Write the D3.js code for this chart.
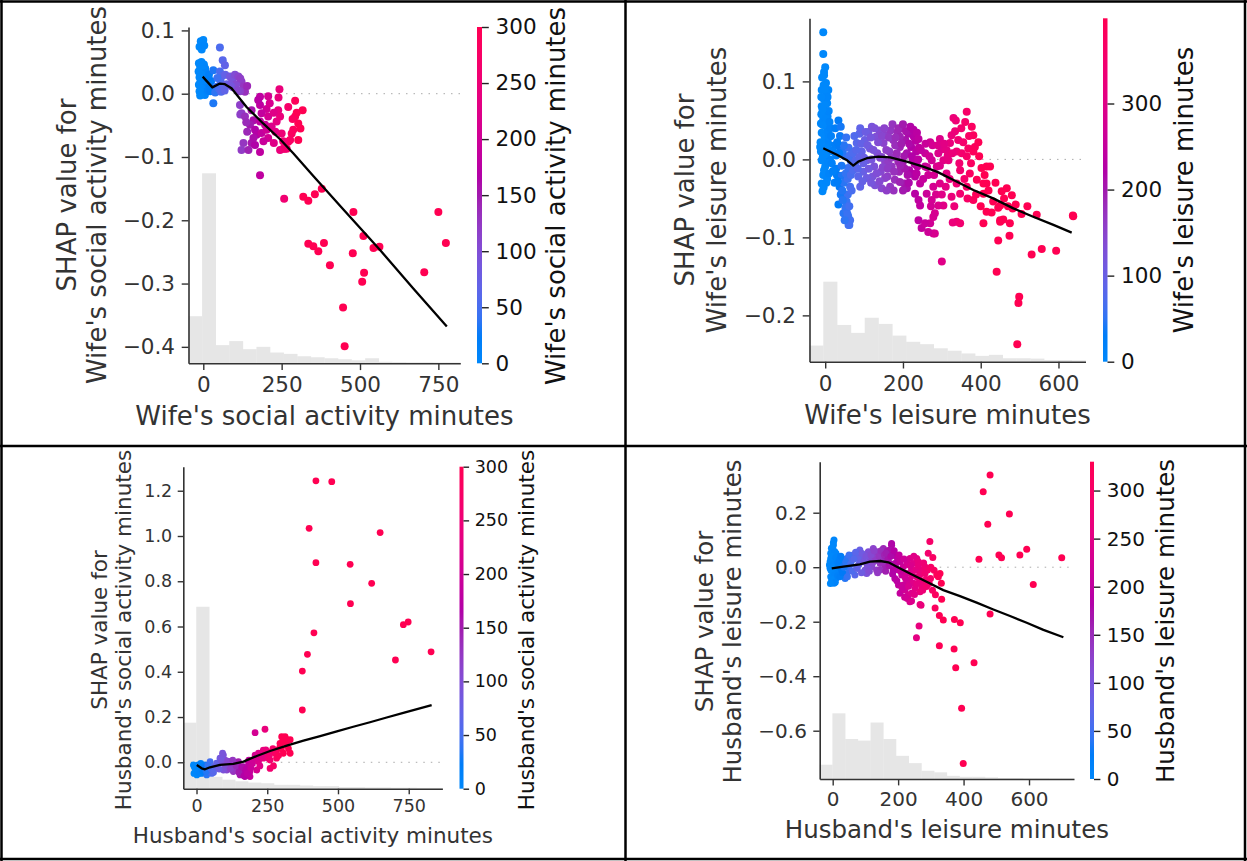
<!DOCTYPE html>
<html><head><meta charset="utf-8">
<script src="https://cdn.jsdelivr.net/npm/d3@7"></script>
<style>body{margin:0;background:#fff}svg{display:block}</style>
</head><body>
<svg id="chart" width="1247" height="861"></svg>
<script>
// ---------------- DATA ----------------
// Panel 1: Wife's social activity minutes  ([minutes, SHAP value])
const wifeSocialPoints = [
[-8,0.083],[0,0.085],[-12,0.074],[-5,0.070],[3,0.076],
[-14,0.048],[-6,0.050],[2,0.046],[-10,0.042],[6,0.040],[-2,0.038],[-15,0.035],[8,0.033],[-6,0.030],[1,0.028],[-12,0.026],[10,0.024],[-3,0.022],[-9,0.019],[4,0.018],[12,0.016],[-14,0.014],[-1,0.012],[7,0.010],[-7,0.008],[2,0.006],[-12,0.004],[9,0.003],[-4,0.001],[5,-0.002],[-10,-0.003],[15,0.005],[20,0.012],[25,0.020],[18,0.030],[22,0.004],
[32,-0.015],[32,0.037],[43,0.011],[38,0.002],[50,0.008],[55,0.020],[53,0.073],[62,0.053],[69,0.045],[53,0.035],[57,0.003],[65,0.012],[60,0.028],[45,0.025],[70,0.030],[75,0.015],[68,0.005],
[85,0.027],[92,0.022],[101,0.030],[112,0.027],[122,0.019],[128,0.011],[133,0.003],[117,0.004],[95,0.010],[105,0.015],[110,0.005],[140,0.012],[118,0.024],[88,0.012],
[117,-0.018],[122,-0.031],[118,-0.033],[133,-0.036],[154,-0.026],[160,-0.042],[149,-0.049],[165,-0.057],[181,-0.005],[207,-0.004],[181,-0.018],[202,-0.024],[186,-0.031],[207,-0.036],[181,-0.044],[197,-0.049],[170,-0.065],[186,-0.062],[202,-0.057],[218,-0.052],[128,-0.078],[154,-0.078],[122,-0.089],[144,-0.089],[165,-0.081],[181,-0.092],[181,-0.129],[207,-0.070],[234,-0.044],[245,-0.036],[239,-0.026],[243,0.007],[240,-0.006],[250,-0.063],[255,-0.087],[266,-0.087],[271,-0.076],[140,-0.060],[175,-0.010],[192,-0.075],[212,-0.015],[225,-0.030],[230,-0.060],[160,-0.070],[137,-0.045],[225,-0.078],
[271,-0.021],[293,-0.011],[317,-0.026],[293,-0.036],[303,-0.047],[287,-0.057],[282,-0.063],[303,-0.073],[277,-0.073],[255,-0.075],[245,-0.089],[260,-0.087],[298,-0.030],[310,-0.055],[285,-0.040],
[258,-0.166],[319,-0.163],[335,-0.169],[356,-0.159],[378,-0.150],[479,-0.187],[750,-0.187],[511,-0.225],[543,-0.244],[562,-0.242],[335,-0.237],[351,-0.241],[367,-0.249],[385,-0.236],[477,-0.252],[404,-0.271],[774,-0.236],[513,-0.283],[507,-0.297],[705,-0.282],[446,-0.338],[451,-0.399]
];
const wifeSocialTrend = [[-2,0.027],[29,0.010],[53,0.016],[69,0.015],[90,0.0085],[138,-0.021],[191,-0.047],[245,-0.072],[287,-0.094],[351,-0.130],[447,-0.183],[564,-0.247],[670,-0.308],[777,-0.368]];
const wifeSocialHist = [14.0,56.5,5.4,6.6,4.2,4.9,3.2,2.8,2.1,1.8,1.5,1.2,0.9,1.5,0.45,0.36,0.3,0.3,0.24,0.24]; // % of samples per bin
const wifeSocialXTicks = [0,250,500,750];
const wifeSocialXTickLabels = ["0","250","500","750"];
const wifeSocialYTicks = [0.1,0,-0.1,-0.2,-0.3,-0.4];
const wifeSocialYTickLabels = ["0.1","0.0","\u22120.1","\u22120.2","\u22120.3","\u22120.4"];
const wifeSocialCbTicks = [0,50,100,150,200,250,300];

// Panel 2: Wife's leisure minutes
const wifeLeisurePoints = [
[-5,0.163],[-5,0.135],[-3,0.112],[-3,0.108],[2,0.098],[-9,0.089],[8,0.089],[-5,0.078],[5,0.072],[-9,0.068],[0,0.061],[-5,0.051],[4,0.042],[-9,0.034],[0,0.025],[-13,0.016],[4,0.008],[-9,-0.001],[0,-0.009],[-5,-0.020],[-9,-0.031],[-7,-0.041],
[6,0.055],[-2,0.030],[8,0.020],[-6,0.004],[10,0.012],[-11,0.046],[3,0.085],[-1,0.070],[7,0.035],[-3,-0.014],[5,-0.025],[12,0.000],[-10,0.058],[9,0.062],[-12,0.022],[2,0.015],
[-8,0.105],[0,0.118],[-4,0.095],[6,0.080],[-10,0.080],[1,0.052],[-6,0.044],[9,0.028],[-2,0.006],[7,-0.004],[-11,0.010],[3,-0.030],[-4,-0.036],[10,-0.018],[13,0.040],[-1,0.090],[-7,0.064],[11,0.048],
[34,0.050],[25,0.018],[37,0.016],[51,0.004],[17,-0.005],[30,-0.020],[43,-0.021],[59,-0.011],[64,-0.035],[37,-0.035],[51,-0.046],[55,-0.058],[47,-0.069],[64,-0.078],[60,-0.084],[34,-0.058],[55,-0.054],[55,-0.065],[59,-0.073],[62,-0.084],[20,0.010],[28,0.005],[45,0.010],[40,-0.045],[48,-0.030],[58,-0.045],[24,-0.030],[66,-0.002],[70,0.010],[60,0.015],[52,-0.062],[45,-0.052],[58,-0.025],[38,0.030],[28,-0.012],
[15,0.030],[20,-0.015],[26,0.040],[32,-0.028],[36,0.008],[42,-0.008],[48,0.018],[53,-0.018],[62,-0.060],[66,-0.020],[57,-0.070],[50,-0.078],[44,-0.040],[31,0.022],[63,0.005],[68,-0.040],[40,0.042],[54,0.028],
[72,0.008],[77,-0.005],[81,0.021],[88,0.033],[94,0.010],[98,-0.016],[102,0.025],[107,-0.001],[111,0.035],[115,0.014],[120,0.042],[122,-0.022],[126,-0.009],[131,0.029],[134,0.008],[139,0.037],[143,-0.016],[145,-0.037],[150,0.021],[154,-0.003],[156,0.031],[160,-0.022],[165,0.010],[168,0.037],[171,-0.009],[175,0.025],[179,-0.026],[182,0.003],[186,0.035],[190,-0.016],[192,0.016],[197,0.040],[199,-0.005],[203,-0.031],[206,0.025],[210,0.008],[214,0.033],[216,-0.014],[221,0.016],[225,-0.001],[228,0.029],[231,-0.022],[234,0.010],[237,-0.009],
[85,-0.022],[107,-0.024],[90,-0.035],[128,-0.033],[154,-0.024],[167,-0.035],[192,-0.029],[210,-0.037],[98,-0.005],[145,0.003],[162,-0.005],[188,-0.003],[205,-0.012],[222,-0.018],[72,-0.014],[79,-0.001],[88,0.003],[192,0.029],[180,0.018],
[75,0.030],[80,0.012],[84,-0.012],[90,0.040],[93,0.020],[96,-0.028],[100,0.002],[104,0.035],[109,0.018],[112,-0.012],[117,0.028],[119,0.000],[124,0.012],[127,0.040],[132,-0.018],[136,0.022],[141,0.002],[146,0.030],[148,-0.010],[152,0.040],[157,0.012],[161,-0.012],[164,0.028],[170,0.002],[173,0.045],[177,-0.016],[181,0.028],[184,0.008],[188,0.040],[193,-0.008],[196,0.020],[200,0.045],[203,0.004],[208,0.036],[212,-0.020],[216,0.020],[219,0.042],[223,0.004],[227,0.038],[230,-0.006],[233,0.024],[236,0.034],[239,0.000],[241,0.015],[176,-0.040],[140,-0.028],[118,-0.030],[158,-0.040],[200,-0.040],[215,-0.030],
[240,0.026],[270,0.022],[257,0.008],[295,0.026],[300,0.013],[330,0.053],[364,0.061],[334,0.036],[321,0.021],[355,0.022],[377,0.042],[381,0.031],[394,0.022],[338,0.010],[304,-0.001],[364,0.004],[402,-0.011],[415,-0.009],[424,-0.009],[415,-0.031],[338,-0.031],[235,-0.018],[244,-0.031],[265,-0.020],[278,-0.035],[240,-0.052],[261,-0.044],[274,-0.052],[295,-0.031],[304,-0.059],[325,-0.048],[347,-0.044],[364,-0.035],[407,-0.044],[432,-0.054],[454,-0.041],[480,-0.046],[415,-0.067],[450,-0.078],[475,-0.082],[544,-0.071],[638,-0.073],[338,-0.080],[291,-0.059],[282,-0.069],[240,-0.078],[248,-0.088],[270,-0.082],[278,-0.095],
[317,-0.001],[351,0.008],[312,-0.018],[287,-0.009],[274,-0.001],[372,-0.018],[390,-0.026],[347,-0.014],[368,0.014],[312,0.012],[291,0.008],[325,0.031],[257,-0.009],[381,0.010],[407,-0.031],[450,-0.059],[467,-0.037],[381,-0.052],[231,-0.044],[244,-0.059],
[246,0.012],[252,-0.025],[258,0.020],[262,-0.010],[268,0.004],[272,-0.060],[276,0.018],[280,-0.020],[285,-0.045],[290,0.018],[295,-0.008],[300,-0.045],[306,0.020],[310,-0.035],[315,0.005],[320,-0.025],[327,0.008],[332,-0.060],[336,0.050],[342,0.025],[345,-0.005],[350,0.040],[358,-0.025],[360,0.048],[366,-0.050],[370,0.030],[375,-0.005],[385,0.016],[388,-0.045],[396,0.004],[400,-0.060],[410,-0.020],[420,-0.040],[428,-0.068],[438,-0.030],[445,-0.062],[460,-0.050],[470,-0.060],[490,-0.058],[505,-0.070],[520,-0.060],
[257,-0.082],[278,-0.074],[282,-0.095],[300,-0.131],[328,-0.081],[347,-0.082],[407,-0.082],[450,-0.080],[458,-0.077],[474,-0.098],[445,-0.104],[441,-0.144],[531,-0.122],[557,-0.115],[594,-0.117],[637,-0.072],[482,-0.063],[499,-0.176],[497,-0.184],[494,-0.237],[265,-0.093]
];
const wifeLeisureTrend = [[-5,0.0142],[30,0.0059],[55,-0.0007],[72,-0.0079],[85,-0.0028],[107,0.0015],[137,0.0036],[167,0.0027],[210,-0.0028],[252,-0.0092],[287,-0.0157],[330,-0.0264],[381,-0.0393],[432,-0.050],[484,-0.0628],[535,-0.0735],[587,-0.084],[634,-0.0939]];
const wifeLeisureHist = [4.7,23.3,10.7,8.4,12.8,11.0,7.6,5.8,5.1,3.9,3.2,2.4,1.7,2.0,1.0,1.0,0.9,0.5,0.5,0.4];
const wifeLeisureXTicks = [0,200,400,600];
const wifeLeisureXTickLabels = ["0","200","400","600"];
const wifeLeisureYTicks = [0.1,0,-0.1,-0.2];
const wifeLeisureYTickLabels = ["0.1","0.0","\u22120.1","\u22120.2"];
const wifeLeisureCbTicks = [0,100,200,300];

// Panel 3: Husband's social activity minutes
const husbandSocialPoints = [
[-11,-0.012],[-2,-0.034],[-9,-0.049],[6,-0.012],[18,-0.027],[30,-0.012],[48,-0.034],[65,-0.027],[77,-0.012],[83,0.018],[101,0.010],[107,-0.034],[142,-0.027],[165,-0.019],[183,0.003],[136,-0.004],[118,0.003],[154,-0.056],[171,-0.063],[189,-0.063],[213,-0.034],[260,-0.027],
[-5,-0.027],[1,-0.056],[18,-0.049],[36,-0.056],[54,-0.049],[95,-0.034],[130,-0.041],[160,-0.049],[177,-0.056],[12,-0.019],[6,-0.041],[24,-0.034],[42,-0.034],[48,0.003],[59,-0.019],[71,-0.004],[89,0.003],[95,0.032],[112,-0.012],[124,-0.019],[148,0.003],[154,-0.034],[171,-0.041],[183,-0.019],[189,-0.041],
[-8,-0.020],[3,-0.028],[10,-0.048],[15,-0.005],[22,-0.040],[28,-0.022],[34,-0.040],[40,-0.015],[52,-0.030],[60,-0.045],[70,-0.020],[80,-0.030],[88,0.020],[92,0.040],[100,-0.010],[110,0.005],[120,-0.030],[128,0.010],[140,-0.015],[150,-0.045],[160,-0.020],[168,-0.060],[175,-0.030],[180,-0.050],[185,0.010],[192,-0.025],[198,-0.005],
[195,0.010],[201,0.010],[207,0.032],[219,0.040],[219,0.003],[224,-0.016],[236,0.054],[236,0.018],[248,0.040],[254,0.018],[260,0.010],[266,0.047],[272,-0.016],[283,0.018],[283,0.054],[295,0.069],[295,0.084],[301,0.113],[307,0.040],[313,0.090],[313,0.113],[319,0.076],[331,0.100],[331,0.040],[207,0.131],[242,0.146],
[212,0.020],[228,0.030],[245,0.055],[258,0.032],[270,0.060],[278,0.040],[290,0.030],[300,0.060],[305,0.095],[320,0.100],[325,0.060],
[374,0.231],[374,0.403],[392,0.477],[415,0.572],[398,1.034],[422,1.244],[478,1.240],[422,0.882],[543,0.875],[544,0.701],[619,0.791],[649,1.015],[703,0.452],[731,0.608],[748,0.620],[829,0.488]
];
const husbandSocialTrend = [[1,-0.012],[18,-0.0265],[30,-0.031],[48,-0.022],[83,-0.0118],[130,-0.0074],[166,0.003],[213,0.028],[260,0.050],[319,0.0735],[378,0.0956],[437,0.116],[496,0.137],[554,0.157],[613,0.177],[672,0.198],[731,0.218],[831,0.253]];
const husbandSocialHist = [20.5,56.5,3.7,2.8,2.3,1.9,1.7,1.2,1.2,1.0,0.8,0.8,0.5,0.5,0.4,0.4,0.3,0.3,0.25,0.25];
const husbandSocialXTicks = [0,250,500,750];
const husbandSocialXTickLabels = ["0","250","500","750"];
const husbandSocialYTicks = [0,0.2,0.4,0.6,0.8,1.0,1.2];
const husbandSocialYTickLabels = ["0.0","0.2","0.4","0.6","0.8","1.0","1.2"];
const husbandSocialCbTicks = [0,50,100,150,200,250,300];

// Panel 4: Husband's leisure minutes
const husbandLeisurePoints = [
[4,0.100],[2,0.081],[0,0.063],[7,0.045],[-6,0.032],[12,0.026],[-3,0.014],[7,0.002],[-8,-0.004],[17,-0.016],[2,-0.023],[-6,-0.035],[10,-0.041],[4,-0.059],[-3,-0.049],[12,-0.010],[-10,0.008],[0,0.026],[10,0.051],[-6,0.051],[22,0.002],[27,0.026],
[2,0.090],[-4,0.070],[6,0.058],[-2,0.040],[9,0.036],[-8,0.020],[3,0.010],[14,0.014],[-5,-0.012],[6,-0.028],[-1,-0.045],[8,-0.055],[-7,-0.060],[15,-0.030],[0,0.000],[18,0.010],
[33,0.014],[43,0.032],[53,-0.010],[63,0.045],[58,0.026],[73,0.002],[83,0.063],[83,0.020],[94,0.038],[99,-0.010],[109,0.057],[114,0.026],[119,0.002],[124,0.069],[129,0.038],[139,0.057],[145,0.014],[150,0.038],[155,0.069],[160,0.002],[165,0.026],[134,-0.010],[104,-0.023],[68,-0.029],[43,-0.023],[27,-0.010],[20,0.026],[38,-0.041],[22,-0.035],[48,0.002],[78,0.038],[145,-0.010],
[25,0.040],[30,-0.020],[35,0.000],[40,0.018],[45,-0.035],[50,0.045],[55,0.012],[60,-0.015],[65,0.030],[70,0.055],[75,-0.005],[80,0.010],[88,-0.020],[90,0.050],[96,0.020],[102,0.040],[106,0.005],[112,-0.015],[117,0.045],[122,0.015],[127,0.060],[132,0.025],[137,-0.020],[142,0.040],[148,0.060],[152,0.018],[158,0.045],[162,-0.015],[168,0.060],[172,0.005],
[180,0.081],[175,0.063],[185,0.045],[198,0.032],[190,0.014],[206,0.020],[216,0.002],[201,-0.010],[226,0.026],[236,0.032],[246,0.014],[257,0.032],[262,0.020],[211,-0.029],[226,-0.023],[236,-0.047],[190,-0.041],[201,-0.065],[206,-0.096],[221,-0.084],[231,-0.102],[241,-0.096],[252,-0.078],[267,-0.090],[277,-0.059],[257,-0.035],[272,-0.010],[282,0.002],[246,-0.059],[226,-0.053],[185,-0.010],[175,0.014],[241,-0.010],[267,-0.047],[216,-0.065],[170,0.032],[163,0.051],[180,0.087],[236,-0.127],[272,-0.071],
[178,0.040],[183,-0.025],[188,0.060],[193,0.000],[196,-0.050],[203,0.045],[208,-0.015],[212,-0.075],[218,0.030],[222,-0.040],[228,0.010],[232,-0.070],[238,0.005],[243,-0.030],[248,0.040],[250,-0.100],[254,-0.010],[258,-0.060],[262,0.005],[268,-0.025],[275,-0.085],[278,0.015],[285,-0.045],[290,-0.010],[295,-0.060],[300,0.000],[305,-0.085],[220,-0.110],[228,-0.115],
[297,0.094],[292,0.051],[306,0.036],[310,-0.011],[328,-0.023],[318,-0.029],[332,-0.059],[323,-0.035],[299,-0.041],[282,-0.023],[287,-0.071],[314,-0.101],[333,-0.118],[313,-0.150],[270,-0.140],[241,-0.124],[267,-0.137],[264,-0.216],[256,-0.259],[326,-0.177],[338,-0.194],[372,-0.192],[390,-0.204],[326,-0.288],[371,-0.300],[376,-0.369],[432,-0.351],[394,-0.518],[399,-0.720],
[481,0.338],[460,0.277],[540,0.195],[474,0.158],[593,0.066],[572,0.045],[508,0.045],[516,0.035],[447,0.029],[700,0.035],[613,-0.063],[481,-0.172]
];
const husbandLeisureTrend = [[-3,-0.0044],[33,0.002],[83,0.0106],[114,0.0204],[145,0.0228],[170,0.018],[196,0.002],[236,-0.0228],[287,-0.0534],[338,-0.084],[389,-0.106],[440,-0.130],[491,-0.155],[542,-0.179],[593,-0.204],[644,-0.230],[705,-0.257]];
const husbandLeisureHist = [4.5,20.7,12.6,12.1,17.8,12.6,7.3,5.0,2.6,2.1,1.0,0.7,0.7,0.5,0.3,0.3,0.2,0.2,0.15,0.15];
const husbandLeisureXTicks = [0,200,400,600];
const husbandLeisureXTickLabels = ["0","200","400","600"];
const husbandLeisureYTicks = [0.2,0,-0.2,-0.4,-0.6];
const husbandLeisureYTickLabels = ["0.2","0.0","\u22120.2","\u22120.4","\u22120.6"];
const husbandLeisureCbTicks = [0,50,100,150,200,250,300];

// ---------------- DRAWING ----------------
const FONT = "DejaVu Sans";
const svg = d3.select("#chart");

// SHAP red_blue colormap (LCh interpolation)
function shapColor(t) {
  const L = t < 0.5 ? 54 + (40 - 54) * (t / 0.5) : 40 + (54 - 40) * ((t - 0.5) / 0.5);
  const C = 70 + 20 * t;
  const H = 266.93 + 113.39 * t;
  return d3.hcl(H % 360, C, L).formatHex();
}

const defs = svg.append("defs");
const grad = defs.append("linearGradient").attr("id", "shapgrad")
  .attr("x1", 0).attr("y1", 1).attr("x2", 0).attr("y2", 0);
d3.range(0, 1.0001, 0.025).forEach(t => grad.append("stop").attr("offset", t).attr("stop-color", shapColor(t)));

const panels = [
  { points: wifeSocialPoints, trend: wifeSocialTrend, hist: wifeSocialHist,
    xTicks: wifeSocialXTicks, xTickLabels: wifeSocialXTickLabels, yTicks: wifeSocialYTicks, yTickLabels: wifeSocialYTickLabels, cbTicks: wifeSocialCbTicks,
    xDomain: [-47.2, 820], yDomain: [-0.426, 0.1054], cMax: 300,
    left: 188.5, right: 460.3, top: 27, bottom: 363.3, r: 4,
    cbX: 477, cbW: 5, tickFs: 21.5, labelFs: 26, tl: 6.8,
    xLabel: "Wife's social activity minutes", xLabelX: 324.4, xLabelY: 425,
    yLabel1: "SHAP value for", yLabel2: "Wife's social activity minutes", yL1X: 75.7, yL2X: 105.6, yLCy: 195,
    cbLabelX: 565, cbLabelCy: 196 },
  { points: wifeLeisurePoints, trend: wifeLeisureTrend, hist: wifeLeisureHist,
    xTicks: wifeLeisureXTicks, xTickLabels: wifeLeisureXTickLabels, yTicks: wifeLeisureYTicks, yTickLabels: wifeLeisureYTickLabels, cbTicks: wifeLeisureCbTicks,
    xDomain: [-40.4, 669.5], yDomain: [-0.2594, 0.1809], cMax: 399,
    left: 809.5, right: 1085.5, top: 18.3, bottom: 361.7, r: 4,
    cbX: 1103, cbW: 4.5, tickFs: 21.5, labelFs: 26, tl: 6.8,
    xLabel: "Wife's leisure minutes", xLabelX: 947.5, xLabelY: 424,
    yLabel1: "SHAP value for", yLabel2: "Wife's leisure minutes", yL1X: 694.4, yL2X: 726, yLCy: 190,
    cbLabelX: 1193, cbLabelCy: 190 },
  { points: husbandSocialPoints, trend: husbandSocialTrend, hist: husbandSocialHist,
    xTicks: husbandSocialXTicks, xTickLabels: husbandSocialXTickLabels, yTicks: husbandSocialYTicks, yTickLabels: husbandSocialYTickLabels, cbTicks: husbandSocialCbTicks,
    xDomain: [-46.7, 869], yDomain: [-0.1167, 1.3062], cMax: 300,
    left: 183.3, right: 442.4, top: 466.7, bottom: 788.7, r: 3.4,
    cbX: 459.5, cbW: 4, tickFs: 17.5, labelFs: 21.5, tl: 5.6,
    xLabel: "Husband's social activity minutes", xLabelX: 312.9, xLabelY: 842.7,
    yLabel1: "SHAP value for", yLabel2: "Husband's social activity minutes", yL1X: 106.8, yL2X: 130.7, yLCy: 630,
    cbLabelX: 534, cbLabelCy: 630 },
  { points: husbandLeisurePoints, trend: husbandLeisureTrend, hist: husbandLeisureHist,
    xTicks: husbandLeisureXTicks, xTickLabels: husbandLeisureXTickLabels, yTicks: husbandLeisureYTicks, yTickLabels: husbandLeisureYTickLabels, cbTicks: husbandLeisureCbTicks,
    xDomain: [-39.7, 737.5], yDomain: [-0.7772, 0.3872], cMax: 330,
    left: 819.7, right: 1074, top: 461.7, bottom: 779, r: 3.5,
    cbX: 1090, cbW: 4, tickFs: 20, labelFs: 24.5, tl: 6.4,
    xLabel: "Husband's leisure minutes", xLabelX: 946.9, xLabelY: 837.7,
    yLabel1: "SHAP value for", yLabel2: "Husband's leisure minutes", yL1X: 713, yL2X: 740.8, yLCy: 621.5,
    cbLabelX: 1174, cbLabelCy: 621 }
];

function styleAxis(sel, fs, color) {
  sel.select(".domain").attr("stroke", "#333333").attr("stroke-width", 1.6);
  sel.selectAll(".tick line").attr("stroke", "#333333").attr("stroke-width", 1.4);
  sel.selectAll(".tick text").attr("fill", color).attr("font-size", fs).attr("font-family", FONT);
}

function drawPanel(p) {
  const g = svg.append("g");
  const x = d3.scaleLinear().domain(p.xDomain).range([p.left, p.right]);
  const y = d3.scaleLinear().domain(p.yDomain).range([p.bottom, p.top]);
  const hy = d3.scaleLinear().domain([0, 100]).range([p.bottom, p.top]);
  const cs = d3.scaleLinear().domain([0, p.cMax]).range([0, 1]).clamp(true);

  // histogram (20 bins over the x-axis range)
  const nb = p.hist.length, x0 = p.xDomain[0], bw = (p.xDomain[1] - p.xDomain[0]) / nb;
  g.append("g").selectAll("rect").data(p.hist).join("rect")
    .attr("x", (d, i) => x(x0 + i * bw))
    .attr("width", (d, i) => x(x0 + (i + 1) * bw) - x(x0 + i * bw) + 0.3)
    .attr("y", d => hy(d))
    .attr("height", d => p.bottom - hy(d))
    .attr("fill", "#e6e6e6");

  // zero line
  g.append("line").attr("x1", p.left).attr("x2", p.right).attr("y1", y(0)).attr("y2", y(0))
    .attr("stroke", "#aaaaaa").attr("stroke-width", 1).attr("stroke-dasharray", "1.5,6");

  // points
  g.append("g").selectAll("circle").data(p.points).join("circle")
    .attr("cx", d => x(d[0])).attr("cy", d => y(d[1])).attr("r", p.r)
    .attr("fill", d => shapColor(cs(d[0])));

  // trend line
  g.append("path").datum(p.trend)
    .attr("d", d3.line().x(d => x(d[0])).y(d => y(d[1])))
    .attr("fill", "none").attr("stroke", "#000").attr("stroke-width", 2.3).attr("stroke-linejoin", "round");

  // axes
  const xa = g.append("g").attr("transform", `translate(0,${p.bottom})`)
    .call(d3.axisBottom(x).tickValues(p.xTicks).tickFormat((d, i) => p.xTickLabels[i]).tickSize(p.tl).tickSizeOuter(0).tickPadding(p.tl));
  styleAxis(xa, p.tickFs, "#333333");
  const ya = g.append("g").attr("transform", `translate(${p.left},0)`)
    .call(d3.axisLeft(y).tickValues(p.yTicks).tickFormat((d, i) => p.yTickLabels[i]).tickSize(p.tl).tickSizeOuter(0).tickPadding(p.tl));
  styleAxis(ya, p.tickFs, "#333333");

  // colorbar
  g.append("rect").attr("x", p.cbX).attr("y", p.top).attr("width", p.cbW).attr("height", p.bottom - p.top)
    .attr("fill", "url(#shapgrad)");
  const cbScale = d3.scaleLinear().domain([0, p.cMax]).range([p.bottom, p.top]);
  const cba = g.append("g").attr("transform", `translate(${p.cbX + p.cbW},0)`)
    .call(d3.axisRight(cbScale).tickValues(p.cbTicks).tickSize(p.tl).tickSizeOuter(0).tickPadding(p.tl));
  cba.select(".domain").remove();
  cba.selectAll(".tick line").attr("stroke", "#222").attr("stroke-width", 1.4);
  cba.selectAll(".tick text").attr("fill", "#111").attr("font-size", p.tickFs).attr("font-family", FONT);

  // labels
  g.append("text").attr("x", p.xLabelX).attr("y", p.xLabelY).attr("text-anchor", "middle")
    .attr("font-family", FONT).attr("font-size", p.labelFs).attr("fill", "#333333").text(p.xLabel);
  [[p.yLabel1, p.yL1X], [p.yLabel2, p.yL2X]].forEach(([t, bx]) => {
    g.append("text").attr("transform", `translate(${bx},${p.yLCy}) rotate(-90)`).attr("text-anchor", "middle")
      .attr("font-family", FONT).attr("font-size", p.labelFs).attr("fill", "#333333").text(t);
  });
  g.append("text").attr("transform", `translate(${p.cbLabelX},${p.cbLabelCy}) rotate(-90)`).attr("text-anchor", "middle")
    .attr("font-family", FONT).attr("font-size", p.labelFs).attr("fill", "#111").text(p.yLabel2);
}

panels.forEach(drawPanel);

// table borders
const border = svg.append("g").attr("stroke", "#000").attr("stroke-width", 2.5);
[[0, 1.5, 1247, 1.5], [0, 859, 1247, 859], [1.5, 0, 1.5, 861], [1245, 0, 1245, 861],
 [625.5, 0, 625.5, 861], [0, 446, 1247, 446]].forEach(([a, b, c, d]) =>
  border.append("line").attr("x1", a).attr("y1", b).attr("x2", c).attr("y2", d));
</script>
</body></html>
